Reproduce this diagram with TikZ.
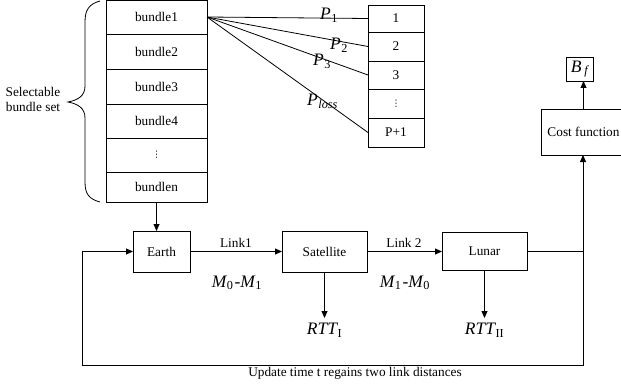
\documentclass[tikz,border=0pt]{standalone}
\usepackage{fontspec}
\setmainfont{Liberation Serif}
\newfontfamily\dejavu{DejaVu Sans}
\usetikzlibrary{arrows.meta}
\newcommand{\smalldots}{{\dejavu\fontsize{9}{9}\selectfont ⋮}}
\newcommand{\sbs}[1]{\kern0.5pt\textsubscript{#1}}
\begin{document}
\begin{tikzpicture}[x=1pt,y=-1pt,
  every node/.style={font=\fontsize{13.3}{15}\selectfont},
  box/.style={draw, line width=0.8pt, inner sep=0pt, outer sep=0pt, align=center},
  ln/.style={line width=0.8pt},
  arr/.style={ln, -{Triangle[length=7pt,width=6pt]}},
  big/.style={font=\fontsize{17.5}{19}\selectfont\itshape, inner sep=0pt},
]
\useasboundingbox (0,0) rectangle (621,385);
\clip (0,0) rectangle (621,385);
% bundle column
\node[box, minimum width=101pt, minimum height=34pt] (b1) at (156.5,17) {bundle1};
\node[box, minimum width=101pt, minimum height=35pt] (b2) at (156.5,51.5) {bundle2};
\node[box, minimum width=101pt, minimum height=35pt] (b3) at (156.5,86.5) {bundle3};
\node[box, minimum width=101pt, minimum height=34pt] (b4) at (156.5,121) {bundle4};
\node[box, minimum width=101pt, minimum height=34pt] (b5) at (156.5,155) {\smalldots};
\node[box, minimum width=101pt, minimum height=30pt] (b6) at (156.5,187) {bundlen};
% brace
\draw[ln] (100,1) .. controls (89,4) and (85,10) .. (85,22) -- (85,86)
  .. controls (85,96) and (78,100) .. (68,102)
  .. controls (78,104) and (85,108) .. (85,118) -- (85,182)
  .. controls (85,194) and (89,199) .. (100,202);
\node[align=center] (sel) at (33,99.5) {Selectable\\bundle set};
% P list
\node[box, minimum width=56pt, minimum height=27pt] (p1) at (396,18.5) {1};
\node[box, minimum width=56pt, minimum height=29pt] (p2) at (396,46.5) {2};
\node[box, minimum width=56pt, minimum height=28pt] (p3) at (396,75) {3};
\node[box, minimum width=56pt, minimum height=29pt] (p4) at (396,103.5) {\smalldots};
\node[box, minimum width=56pt, minimum height=29pt] (p5) at (396,132.5) {P+1};
\draw[ln] (b1.east) -- (p1.west);
\draw[ln] (b1.east) -- (p2.west);
\draw[ln] (b1.east) -- (p3.west);
\draw[ln] (b1.east) -- (p5.west);
\node[big, anchor=base west] (lp1) at (320,20) {P\sbs{\upshape 1}};
\node[big, anchor=base west] (lp2) at (330,50) {P\sbs{\upshape 2}};
\node[big, anchor=base west] (lp3) at (313,66) {P\sbs{\upshape 3}};
\node[big, anchor=base west] (lp4) at (307,106) {P\sbs{loss}};
% cost function
\node[box, minimum width=85pt, minimum height=46pt] (cost) at (583.5,132) {Cost function};
\node[box, minimum width=27pt, minimum height=24pt] (bf) at (579.5,69) {\fontsize{17.5}{19}\selectfont\itshape B\,\textsubscript{f}};
\draw[arr] (cost.north) -- (cost.north |- bf.south);
% main row
\node[box, minimum width=57pt, minimum height=41pt] (earth) at (161.5,251.5) {Earth};
\node[box, minimum width=85pt, minimum height=41pt] (sat) at (324.5,251.5) {Satellite};
\node[box, minimum width=85pt, minimum height=38pt] (lunar) at (484.5,251.5) {Lunar};
\draw[arr] (b6.south) -- (b6.south |- earth.north);
\draw[arr] (earth.east) -- (sat.west);
\draw[arr] (sat.east) -- (lunar.west);
\node (l1) at (236,243) {Link1};
\node (l2) at (404,243) {Link 2};
\node[big] (m1) at (237,283) {M\sbs{\upshape 0}\kern1pt\upshape-\itshape M\sbs{\upshape 1}};
\node[big] (m2) at (405,283) {M\sbs{\upshape 1}\kern1pt\upshape-\itshape M\sbs{\upshape 0}};
\node[big, anchor=north] (rtt1) at (324.5,323) {RTT\sbs{\upshape I}};
\node[big, anchor=north] (rtt2) at (484.5,323) {RTT\sbs{\upshape II}};
\draw[arr] (sat.south) -- ([yshift=5pt]rtt1.north);
\draw[arr] (lunar.south) -- ([yshift=5pt]rtt2.north);
% feedback
\coordinate (j) at (583,251.5);
\coordinate (c1) at (583,365);
\coordinate (c2) at (82,365);
\coordinate (c3) at (82,251.5);
\draw[arr] (lunar.east) -- (j) -- (c1) -- (c2) -- (c3) -- (earth.west);
\draw[arr] (j) -- (j |- cost.south);
\node (upd) at (355,373) {Update time t regains two link distances};
\end{tikzpicture}
\end{document}
